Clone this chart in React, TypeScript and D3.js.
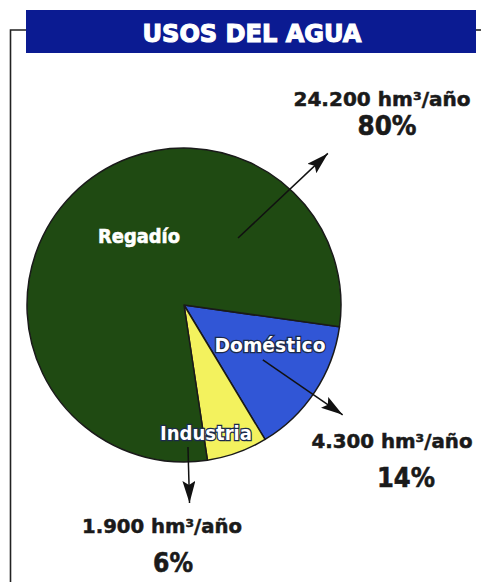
import { useEffect, useRef } from 'react';
import * as d3 from 'd3';

// Chart data
const categories = ['Doméstico', 'Industria', 'Regadío'];
const volumes = [4300, 1900, 24200];
const volumeLabels = ['4.300 hm³/año', '1.900 hm³/año', '24.200 hm³/año'];
const percentLabels = ['14%', '6%', '80%'];
const sliceColors = ['#3156d6', '#f3f25e', '#1f4a12'];
const title = 'USOS DEL AGUA';

const WIDTH = 481;
const HEIGHT = 582;

const App = () => {
  const svgRef = useRef<SVGSVGElement>(null);

  useEffect(() => {
    const root = d3.select(svgRef.current);
    root.selectAll('*').remove();
    root.attr('width', WIDTH).attr('height', HEIGHT);

    const cx = 184;
    const cy = 305;
    const radius = 157;
    const deg = Math.PI / 180;

    // frame lines
    const frame = root.append('g').attr('stroke', '#222').attr('stroke-width', 1.6).attr('fill', 'none');
    frame.append('path').attr('d', `M26,30 H10.5 V${HEIGHT}`);
    frame.append('path').attr('d', `M476,30 H${WIDTH}`);

    // title bar
    root.append('rect')
      .attr('x', 26).attr('y', 10)
      .attr('width', 450).attr('height', 43)
      .attr('fill', '#0b1b92');
    root.append('text')
      .attr('x', 252).attr('y', 42)
      .attr('text-anchor', 'middle')
      .attr('font-family', 'DejaVu Sans')
      .attr('font-weight', 'bold')
      .attr('font-size', 25)
      .attr('textLength', 219)
      .attr('lengthAdjust', 'spacingAndGlyphs')
      .attr('fill', '#fff')
      .attr('stroke', '#fff')
      .attr('stroke-width', 1.2)
      .text(title);

    // pie
    const start = 98 * deg;
    const pie = d3.pie<number>()
      .sort(null)
      .startAngle(start)
      .endAngle(start + 2 * Math.PI);
    const arcs = pie(volumes);
    const arc = d3.arc<d3.PieArcDatum<number>>().innerRadius(0).outerRadius(radius);

    const g = root.append('g').attr('transform', `translate(${cx},${cy})`);
    g.selectAll('path.slice')
      .data(arcs)
      .enter()
      .append('path')
      .attr('class', 'slice')
      .attr('d', arc)
      .attr('fill', (_, i) => sliceColors[i])
      .attr('stroke', '#1a1a1a')
      .attr('stroke-width', 1.5)
      .attr('stroke-linejoin', 'round');

    // arrowheads
    const defs = root.append('defs');
    defs.append('marker')
      .attr('id', 'arrow')
      .attr('viewBox', '0 0 22 13')
      .attr('refX', 22).attr('refY', 6.5)
      .attr('markerWidth', 22).attr('markerHeight', 13)
      .attr('markerUnits', 'userSpaceOnUse')
      .attr('orient', 'auto')
      .append('path')
      .attr('d', 'M0,0 L22,6.5 L0,13 L4,6.5 Z')
      .attr('fill', '#111');

    // arrows: [angle from 12 o'clock, radius] for start and end, per category
    const arrowSpecs = [
      { a0: 124.8, r0: 96, a1: 124.7, r1: 193 },
      { a0: 178.4, r0: 142, a1: 178.4, r1: 198 },
      { a0: 38.9, r0: 86, a1: 43.5, r1: 209 },
    ];
    const polar = (a: number, r: number) => [cx + r * Math.sin(a * deg), cy - r * Math.cos(a * deg)];
    arrowSpecs.forEach((s) => {
      const [x0, y0] = polar(s.a0, s.r0);
      const [x1, y1] = polar(s.a1, s.r1);
      root.append('line')
        .attr('x1', x0).attr('y1', y0)
        .attr('x2', x1).attr('y2', y1)
        .attr('stroke', '#111')
        .attr('stroke-width', 1.5)
        .attr('marker-end', 'url(#arrow)');
    });

    // slice names
    const namePos = [
      { x: 270, y: 352, w: 111 },
      { x: 206, y: 440, w: 92 },
      { x: 139, y: 243, w: 82 },
    ];
    categories.forEach((c, i) => {
      root.append('text')
        .attr('x', namePos[i].x).attr('y', namePos[i].y)
        .attr('text-anchor', 'middle')
        .attr('font-family', 'DejaVu Sans')
        .attr('font-weight', 'bold')
        .attr('font-size', 19)
        .attr('textLength', namePos[i].w)
        .attr('lengthAdjust', 'spacingAndGlyphs')
        .attr('fill', '#fff')
        .attr('paint-order', 'stroke')
        .attr('stroke', i === 2 ? '#fff' : '#1c2a4a')
        .attr('stroke-width', i === 2 ? 0.6 : 2.5)
        .text(c);
    });

    // value + percent labels
    const valuePos = [
      { x: 392, y: 448, w: 161, px: 406, py: 487, pw: 58 },
      { x: 162, y: 533, w: 160, px: 173, py: 572, pw: 40 },
      { x: 382, y: 106, w: 177, px: 387, py: 135, pw: 59 },
    ];
    volumeLabels.forEach((v, i) => {
      const p = valuePos[i];
      root.append('text')
        .attr('x', p.x).attr('y', p.y)
        .attr('text-anchor', 'middle')
        .attr('font-family', 'DejaVu Sans')
        .attr('font-weight', 'bold')
        .attr('font-size', 19)
        .attr('textLength', p.w)
        .attr('lengthAdjust', 'spacingAndGlyphs')
        .attr('fill', '#1a1a1a')
        .attr('stroke', '#1a1a1a')
        .attr('stroke-width', 0.5)
        .text(v);
      root.append('text')
        .attr('x', p.px).attr('y', p.py)
        .attr('text-anchor', 'middle')
        .attr('font-family', 'DejaVu Sans')
        .attr('font-weight', 'bold')
        .attr('font-size', 26)
        .attr('textLength', p.pw)
        .attr('lengthAdjust', 'spacingAndGlyphs')
        .attr('fill', '#1a1a1a')
        .attr('stroke', '#1a1a1a')
        .attr('stroke-width', 0.6)
        .text(percentLabels[i]);
    });
  }, []);

  return (
    <svg
      ref={svgRef}
      style={{ position: 'absolute', left: 0, top: 0, background: '#fff' }}
    ></svg>
  );
};

export default App;
